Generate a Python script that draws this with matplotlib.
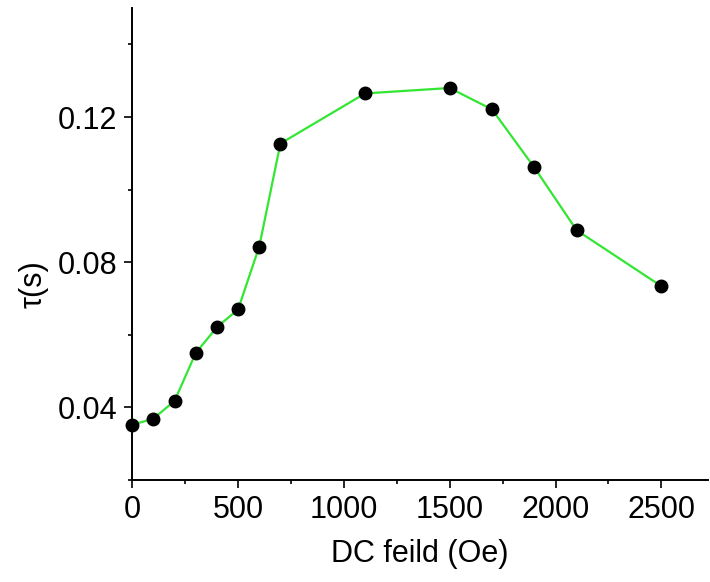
import numpy as np
import matplotlib.pyplot as plt
from matplotlib.ticker import MultipleLocator

plt.rcParams['font.family'] = ['Liberation Sans', 'DejaVu Sans']

field = [0, 100, 200, 300, 400, 500, 600, 700, 1100, 1500, 1700, 1900, 2100, 2500]
tau = [0.0352, 0.0369, 0.0418, 0.0550, 0.0621, 0.0670, 0.0843, 0.1127,
       0.1265, 0.1280, 0.1221, 0.1061, 0.0888, 0.0734]

fig = plt.figure(figsize=(7.1, 5.82), dpi=100)
ax = fig.add_axes([0.1863, 0.1753, 0.8107, 0.8107])

ax.plot(field, tau, color='#33e633', lw=1.6, zorder=2, clip_on=False)
ax.plot(field, tau, 'o', color='black', ms=9, zorder=3, clip_on=False)

ax.set_xlim(0, 2720)
ax.set_ylim(0.02, 0.15)
ax.xaxis.set_major_locator(MultipleLocator(500))
ax.xaxis.set_minor_locator(MultipleLocator(250))
ax.set_yticks([0.04, 0.08, 0.12])
ax.set_yticklabels(['0.04', '0.08', '0.12'])
ax.yaxis.set_minor_locator(MultipleLocator(0.02))

for s in ['top', 'right']:
    ax.spines[s].set_visible(False)
for s in ['left', 'bottom']:
    ax.spines[s].set_linewidth(1.4)

ax.tick_params(which='major', direction='out', length=6, width=1.2, labelsize=22, pad=5)
ax.tick_params(which='minor', direction='out', length=3, width=1.2)

ax.set_xlabel('DC feild (Oe)', fontsize=22, labelpad=10)
ax.set_ylabel('τ(s)', fontsize=22, labelpad=12)
ax.yaxis.set_label_coords(-0.145, 0.415)

fig.savefig('out.png', dpi=100)
